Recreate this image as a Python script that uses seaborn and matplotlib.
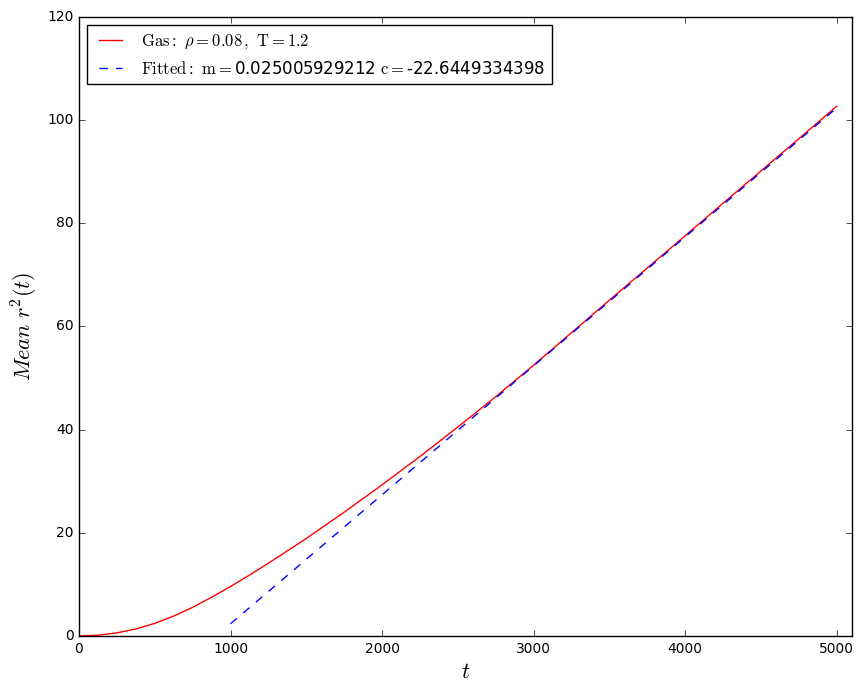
import numpy as np
import pandas as pd
import seaborn as sns
import matplotlib as mpt
import matplotlib.pyplot as plt

mpt.use('Agg')
plt.style.use('classic')

# mean square displacement
t_vals = [0, 125, 250, 375, 500, 625, 750, 875, 1000, 1125, 1250, 1375, 1500,
          1750, 2000, 2250, 2500, 2750, 3000, 3250, 3500, 3750, 4000,
          4250, 4500, 4750, 5000]
msd_vals = [0.0, 0.15, 0.6, 1.35, 2.45, 3.85, 5.55, 7.5, 9.6, 11.8, 14.1,
            16.5, 18.9, 24.0, 29.3, 34.8, 40.5, 46.4, 52.5, 58.8, 65.1,
            71.35, 77.6, 83.9, 90.15, 96.4, 102.7]

# linear fit over the diffusive range
fit_m = 0.025005929212
fit_c = -22.6449334398
fit_t = [1000, 5000]

df_gas = pd.DataFrame({'t': t_vals, 'msd': msd_vals})
df_fit = pd.DataFrame({'t': fit_t})
df_fit['msd'] = fit_m * df_fit['t'] + fit_c

fig = plt.figure(figsize=(8.64, 6.93), dpi=100)
ax = fig.add_subplot(111)
fig.subplots_adjust(left=0.0914, right=0.986, bottom=0.0823, top=0.9755)

sns.lineplot(data=df_gas, x='t', y='msd', color='red', lw=1,
             label=r'$\mathrm{Gas:}\ \rho=0.08\,,\ \mathrm{T}=1.2$', ax=ax)
sns.lineplot(data=df_fit, x='t', y='msd', color='blue', lw=1, linestyle='--',
             label=r'$\mathrm{Fitted:}\ \mathrm{m}=$' + str(fit_m)
                   + r'$\ \mathrm{c}=$' + str(fit_c), ax=ax)

ax.set_xlim(0, 5100)
ax.set_ylim(0, 120)
ax.set_xticks(np.arange(0, 5001, 1000))
ax.set_yticks(np.arange(0, 121, 20))
ax.tick_params(labelsize=10)
ax.set_xlabel(r'$t$', fontsize=16)
ax.set_ylabel(r'$Mean\ r^2(t)$', fontsize=16)
ax.legend(loc='upper left', fontsize=12)

plt.savefig('out.png', dpi=100)
